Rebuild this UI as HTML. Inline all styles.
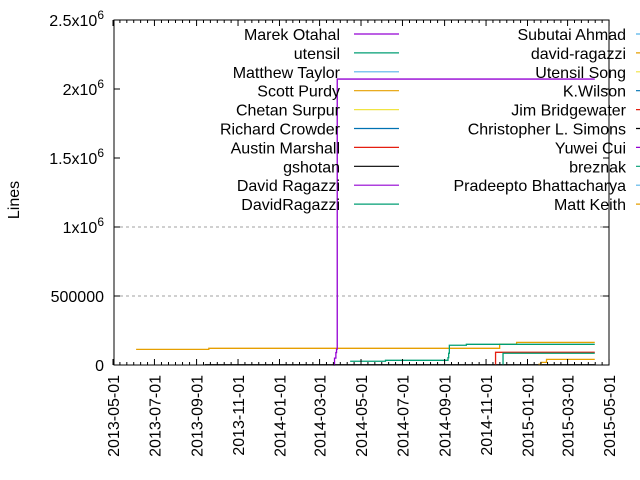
<!DOCTYPE html>
<html><head><meta charset="utf-8"><style>
body{margin:0;background:#fff;}
svg{display:block;font-family:"Liberation Sans",sans-serif;}
</style></head><body>
<svg id="chart" width="640" height="480" viewBox="0 0 640 480" xmlns="http://www.w3.org/2000/svg">
<rect width="640" height="480" fill="#fff"/>
<g id="grid"></g><g id="series"></g><g id="axes"></g><g id="legend"></g>
<text x="19" y="200" font-size="16" text-anchor="middle" transform="rotate(-90 19 200)">Lines</text>
</svg>
<script>
const yTicks = [0, 500000, 1000000, 1500000, 2000000, 2500000];
const yTickLabels = ["0", "500000", "1x10^6", "1.5x10^6", "2x10^6", "2.5x10^6"];
const xTickLabels = ["2013-05-01","2013-07-01","2013-09-01","2013-11-01","2014-01-01","2014-03-01","2014-05-01","2014-07-01","2014-09-01","2014-11-01","2015-01-01","2015-03-01","2015-05-01"];
const legendLeft = ["Marek Otahal","utensil","Matthew Taylor","Scott Purdy","Chetan Surpur","Richard Crowder","Austin Marshall","gshotan","David Ragazzi","DavidRagazzi"];
const legendRight = ["Subutai Ahmad","david-ragazzi","Utensil Song","K.Wilson","Jim Bridgewater","Christopher L. Simons","Yuwei Cui","breznak","Pradeepto Bhattacharya","Matt Keith"];
const palette = ["#9400d3","#009e73","#56b4e9","#e69f00","#f0e442","#0072b2","#e51e10","#000000"];

const purpleDates = ["2014-03-21","2014-03-23","2014-03-25","2014-03-26","2014-03-27","2015-04-10"];
const purpleValues = [0, 50000, 90000, 115000, 2072000, 2072000];
const orangeDates = ["2013-06-04","2013-09-19","2014-11-21","2014-12-16","2015-04-10"];
const orangeValues = [113000, 121000, 150000, 164000, 164000];
const greenDates = ["2014-04-15","2014-06-06","2014-09-06","2014-09-07","2014-09-08","2014-10-03","2015-04-10"];
const greenValues = [27000, 34000, 53000, 85000, 143000, 150000, 150000];
const redDates = ["2014-11-15","2014-11-15","2015-04-10"];
const redValues = [0, 92000, 92000];
const green2Dates = ["2014-11-26","2014-11-26","2015-04-10"];
const green2Values = [0, 85000, 85000];
const orange2Dates = ["2015-01-17","2015-01-21","2015-01-29","2015-04-10"];
const orange2Values = [5000, 19000, 41000, 41000];
const blackDates = ["2013-09-13","2015-04-10"];
const blackValues = [2000, 2000];

const NS="http://www.w3.org/2000/svg";
const L=114,R=609,T=20,B=365;
const X0=Date.UTC(2013,4,1), PXD=0.6795;
function days(s){const p=s.split("-");return (Date.UTC(+p[0],+p[1]-1,+p[2])-X0)/86400000;}
function xs(s){return 113+days(s)*PXD;}
function ys(v){return B-(v/2500000)*(B-T);}
function mk(tag,attrs,parent){const e=document.createElementNS(NS,tag);for(const k in attrs)e.setAttribute(k,attrs[k]);parent.appendChild(e);return e;}
const grid=document.getElementById("grid"),axes=document.getElementById("axes"),ser=document.getElementById("series"),leg=document.getElementById("legend");

yTicks.forEach((v,i)=>{
  const y=ys(v);
  if(v>0&&v<=1000000){const g=mk("line",{x1:L,x2:R,y1:y,y2:y,stroke:"#a0a0a0","stroke-dasharray":"3,3"},grid);
    
    }
  mk("line",{x1:L,x2:L+6,y1:y,y2:y,stroke:"#000"},axes);
  mk("line",{x1:R,x2:R-6,y1:y,y2:y,stroke:"#000"},axes);
  const t=mk("text",{x:104,y:y+6,"font-size":"16","text-anchor":"end"},axes);
  const lab=yTickLabels[i];
  if(lab.indexOf("^")>=0){const p=lab.split("^");t.textContent=p[0];const s=mk("tspan",{dy:-7,"font-size":"12"},t);s.textContent=p[1];}
  else t.textContent=lab;
  
  
});
xTickLabels.forEach((s,i)=>{
  const x=xs(s);
  mk("line",{x1:x,x2:x,y1:B,y2:B-6,stroke:"#000"},axes);
  mk("line",{x1:x,x2:x,y1:T,y2:T+6,stroke:"#000"},axes);
  if(i<xTickLabels.length-1){const nx=xs(xTickLabels[i+1]);for(let k=1;k<6;k++){const mx=x+(nx-x)*k/6;
    mk("line",{x1:mx,x2:mx,y1:B,y2:B-3,stroke:"#000"},axes);mk("line",{x1:mx,x2:mx,y1:T,y2:T+3,stroke:"#000"},axes);}}
  const t=mk("text",{x:0,y:0,"font-size":"16","text-anchor":"end",transform:`translate(${x+6},${B+10}) rotate(-90)`},axes);
  t.textContent=s;
  
  
});
const frame=mk("rect",{x:L,y:T,width:R-L,height:B-T,fill:"none",stroke:"#000"},axes);



function steps(dates,vals,color,name){
  let d="";
  dates.forEach((s,i)=>{const x=xs(s),y=ys(vals[i]);
    if(i===0)d+=`M${x},${y}`;else d+=`H${x}V${y}`;});
  const p=mk("path",{d:d,fill:"none",stroke:color,"stroke-width":"1.3"},ser);
  
  
}
steps(blackDates,blackValues,"#000","series-gshotan");
steps(orangeDates,orangeValues,"#e69f00","series-scott-purdy");
steps(greenDates,greenValues,"#009e73","series-utensil");
steps(redDates,redValues,"#e51e10","series-austin-marshall");
steps(green2Dates,green2Values,"#009e73","series-davidragazzi");
steps(orange2Dates,orange2Values,"#e69f00","series-matt-keith");
steps(purpleDates,purpleValues,"#9400d3","series-marek-otahal");

legendLeft.forEach((n,i)=>{
  const y=34+i*18.9;
  const t=mk("text",{x:340,y:y+6,"font-size":"16","text-anchor":"end"},leg);
  t.textContent=n;
  
  
  const l=mk("line",{x1:354,x2:399,y1:y,y2:y,stroke:palette[i%8],"stroke-width":"1.2"},leg);
  
  
});
legendRight.forEach((n,i)=>{
  const y=34+i*18.9;
  const t=mk("text",{x:626,y:y+6,"font-size":"16","text-anchor":"end"},leg);
  t.textContent=n;
  
  
  const l=mk("line",{x1:636,x2:681,y1:y,y2:y,stroke:palette[(i+10)%8],"stroke-width":"1.2"},leg);
  
  
});
</script>
</body></html>
